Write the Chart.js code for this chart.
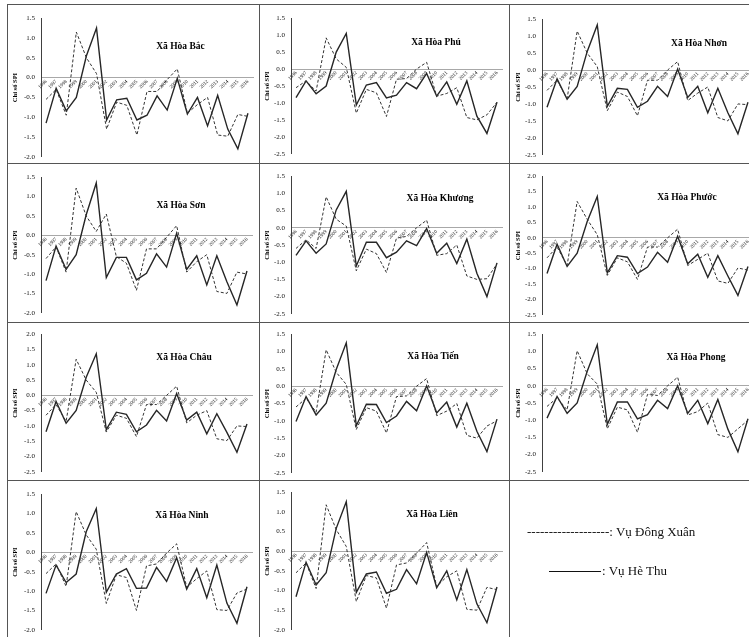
<!DOCTYPE html>
<html>
<head>
<meta charset="utf-8">
<script src="https://cdn.jsdelivr.net/npm/chart.js@4.4.0/dist/chart.umd.min.js"></script>
<style>
html,body{margin:0;padding:0;width:749px;height:637px;overflow:hidden;background:#fff;position:relative;}
canvas{position:absolute;}
.t{position:absolute;font-family:"Liberation Serif",serif;font-weight:bold;font-size:9.5px;color:#000;white-space:nowrap;transform:translate(-50%,-50%);}
.ln{position:absolute;background:#555;}
.lg{position:absolute;font-family:"Liberation Serif",serif;font-size:13px;color:#111;white-space:nowrap;transform:translateY(-50%);}
</style>
</head>
<body>
<script>
// ---- data ----
const years = ['1996','1997','1998','1999','2000','2001','2002','2003','2004','2005','2006','2007','2008','2009','2010','2011','2012','2013','2014','2015','2016'];

const communes = ['Xã Hòa Bắc','Xã Hòa Phú','Xã Hòa Nhơn','Xã Hòa Sơn','Xã Hòa Khương','Xã Hòa Phước','Xã Hòa Châu','Xã Hòa Tiến','Xã Hòa Phong','Xã Hòa Ninh','Xã Hòa Liên'];

const hoaBacDX = [-0.55,-0.30,-0.95,1.15,0.50,0.10,-1.30,-0.62,-0.70,-1.45,-0.35,-0.35,-0.05,0.22,-0.90,-0.68,-0.50,-1.45,-1.48,-0.93,-0.98];
const hoaBacHT = [-1.15,-0.27,-0.84,-0.50,0.55,1.25,-1.07,-0.56,-0.52,-1.07,-0.95,-0.46,-0.82,-0.02,-0.92,-0.50,-1.22,-0.45,-1.30,-1.80,-0.90];

const hoaPhuDX = [-0.55,-0.35,-0.65,0.92,0.30,0.05,-1.30,-0.60,-0.70,-1.40,-0.30,-0.28,0.00,0.20,-0.80,-0.72,-0.55,-1.43,-1.50,-1.35,-0.98];
const hoaPhuHT = [-0.84,-0.35,-0.73,-0.50,0.50,1.05,-1.06,-0.47,-0.40,-0.85,-0.77,-0.40,-0.58,-0.13,-0.80,-0.38,-1.04,-0.35,-1.39,-1.90,-0.98];

const hoaNhonDX = [-0.60,-0.30,-0.85,1.15,0.50,0.10,-1.20,-0.65,-0.78,-1.35,-0.30,-0.30,0.00,0.25,-0.90,-0.68,-0.50,-1.40,-1.50,-1.00,-1.02];
const hoaNhonHT = [-1.10,-0.26,-0.86,-0.48,0.55,1.33,-1.07,-0.54,-0.57,-1.10,-0.92,-0.48,-0.78,0.03,-0.81,-0.48,-1.26,-0.54,-1.26,-1.88,-0.95];

const hoaSonDX = [-0.60,-0.30,-0.95,1.22,0.50,0.10,0.55,-0.55,-0.72,-1.42,-0.35,-0.35,-0.05,0.25,-0.95,-0.68,-0.50,-1.45,-1.50,-0.95,-1.00];
const hoaSonHT = [-1.17,-0.28,-0.88,-0.50,0.53,1.35,-1.09,-0.57,-0.57,-1.15,-0.98,-0.48,-0.82,0.05,-0.88,-0.53,-1.28,-0.53,-1.20,-1.80,-0.92];

const hoaKhuongDX = [-0.60,-0.35,-0.60,0.90,0.25,0.05,-1.25,-0.62,-0.75,-1.30,-0.30,-0.25,0.00,0.22,-0.80,-0.75,-0.50,-1.40,-1.50,-1.48,-1.05];
const hoaKhuongHT = [-0.80,-0.38,-0.74,-0.47,0.52,1.06,-1.11,-0.42,-0.42,-0.87,-0.71,-0.38,-0.52,-0.02,-0.74,-0.45,-1.04,-0.33,-1.32,-2.00,-1.02];

const hoaPhuocDX = [-0.65,-0.30,-0.90,1.18,0.60,0.10,-1.22,-0.65,-0.78,-1.35,-0.30,-0.30,0.00,0.28,-0.90,-0.70,-0.50,-1.40,-1.48,-0.98,-1.05];
const hoaPhuocHT = [-1.16,-0.21,-0.93,-0.50,0.53,1.34,-1.14,-0.58,-0.63,-1.16,-0.95,-0.47,-0.79,0.05,-0.84,-0.53,-1.28,-0.58,-1.24,-1.87,-0.93];

const hoaChauDX = [-0.65,-0.30,-0.85,1.18,0.50,0.10,-1.20,-0.65,-0.75,-1.35,-0.30,-0.30,0.00,0.30,-0.90,-0.65,-0.50,-1.42,-1.48,-1.00,-1.02];
const hoaChauHT = [-1.19,-0.20,-0.91,-0.49,0.59,1.36,-1.12,-0.55,-0.62,-1.19,-0.97,-0.49,-0.84,0.06,-0.81,-0.55,-1.26,-0.60,-1.21,-1.86,-0.94];

const hoaTienDX = [-0.60,-0.35,-0.75,1.05,0.40,0.05,-1.25,-0.62,-0.72,-1.35,-0.30,-0.28,0.00,0.22,-0.85,-0.72,-0.50,-1.42,-1.50,-1.15,-1.00];
const hoaTienHT = [-1.02,-0.30,-0.83,-0.49,0.48,1.25,-1.14,-0.52,-0.53,-1.05,-0.86,-0.44,-0.71,0.01,-0.77,-0.46,-1.18,-0.49,-1.30,-1.89,-0.95];

const hoaPhongDX = [-0.60,-0.35,-0.70,1.02,0.35,0.05,-1.25,-0.62,-0.70,-1.35,-0.25,-0.28,0.00,0.25,-0.85,-0.75,-0.50,-1.42,-1.50,-1.25,-1.00];
const hoaPhongHT = [-0.94,-0.31,-0.80,-0.50,0.42,1.19,-1.12,-0.47,-0.47,-0.96,-0.84,-0.42,-0.66,0.00,-0.80,-0.42,-1.10,-0.40,-1.26,-1.92,-0.96];

const hoaNinhDX = [-0.55,-0.30,-0.88,1.05,0.45,0.08,-1.32,-0.58,-0.65,-1.50,-0.35,-0.30,-0.02,0.22,-0.90,-0.68,-0.48,-1.48,-1.50,-1.05,-0.95];
const hoaNinhHT = [-1.06,-0.33,-0.78,-0.56,0.53,1.13,-1.03,-0.56,-0.42,-0.93,-0.92,-0.39,-0.75,-0.14,-0.95,-0.42,-1.17,-0.33,-1.31,-1.83,-0.89];

const hoaLienDX = [-0.55,-0.30,-0.95,1.18,0.55,0.12,-1.28,-0.62,-0.68,-1.45,-0.35,-0.30,-0.05,0.22,-0.90,-0.65,-0.50,-1.48,-1.50,-0.92,-0.98];
const hoaLienHT = [-1.16,-0.28,-0.86,-0.55,0.58,1.26,-1.05,-0.58,-0.53,-1.07,-0.97,-0.47,-0.83,-0.03,-0.93,-0.50,-1.24,-0.47,-1.34,-1.82,-0.91];

const dongXuan = [hoaBacDX,hoaPhuDX,hoaNhonDX,hoaSonDX,hoaKhuongDX,hoaPhuocDX,hoaChauDX,hoaTienDX,hoaPhongDX,hoaNinhDX,hoaLienDX];
const heThu = [hoaBacHT,hoaPhuHT,hoaNhonHT,hoaSonHT,hoaKhuongHT,hoaPhuocHT,hoaChauHT,hoaTienHT,hoaPhongHT,hoaNinhHT,hoaLienHT];

// y-axis tick range per panel
const yMax = [1.5,1.5,1.5,1.5,1.5,2.0,2.0,1.5,1.5,1.5,1.5];
const yMin = [-2.0,-2.5,-2.5,-2.0,-2.5,-2.5,-2.5,-2.5,-2.5,-2.0,-2.0];

const seriesNames = ['Vụ Đông Xuân','Vụ Hè Thu'];

// ---- layout (pixel geometry of each panel) ----
const geom = [
  {cx:8,   ax:41,  top:16,  bot:159, right:253, tx:180.5, ty:46},
  {cx:260, ax:291, top:16,  bot:156, right:502, tx:436,   ty:42},
  {cx:511, ax:542, top:17,  bot:157, right:753, tx:699,   ty:43},
  {cx:8,   ax:41,  top:175, bot:315, right:252, tx:181,   ty:205},
  {cx:260, ax:291, top:174, bot:316, right:502, tx:440,   ty:198},
  {cx:511, ax:542, top:174, bot:317, right:753, tx:687,   ty:197},
  {cx:8,   ax:41,  top:332, bot:474, right:252, tx:184,   ty:357},
  {cx:260, ax:291, top:332, bot:475, right:502, tx:433,   ty:356},
  {cx:511, ax:542, top:332, bot:474, right:753, tx:696,   ty:357},
  {cx:8,   ax:41,  top:492, bot:632, right:252, tx:182,   ty:515},
  {cx:260, ax:291, top:490, bot:632, right:502, tx:432,   ty:514}
];

function addLine(x,y,w,h){
  const d=document.createElement('div');d.className='ln';
  d.style.left=x+'px';d.style.top=y+'px';d.style.width=w+'px';d.style.height=h+'px';
  document.body.appendChild(d);
}
// table frame
addLine(7,4,742,1);
addLine(7,163,742,1);
addLine(7,322,742,1);
addLine(7,480,742,1);
addLine(7,4,1,633);
addLine(259,4,1,633);
addLine(509,4,1,633);

const serif = 'Liberation Serif, Times New Roman, serif';

function makeChart(i){
  const L = geom[i];
  const padT = 8, padB = 8, padR = 1;
  const c = document.createElement('canvas');
  const w = Math.round(L.right - L.cx + padR);
  const h = Math.round(L.bot - L.top + padT + padB);
  c.width = w; c.height = h;
  c.style.width = w+'px'; c.style.height = h+'px';
  c.style.left = L.cx+'px'; c.style.top = (L.top - padT)+'px';
  document.body.appendChild(c);
  new Chart(c, {
    type:'line',
    data:{labels: years, datasets:[
      {label:seriesNames[0], data: dongXuan[i], borderColor:'#333', borderWidth:1, borderDash:[3,2], pointRadius:0, tension:0, fill:false},
      {label:seriesNames[1], data: heThu[i], borderColor:'#262626', borderWidth:1.4, pointRadius:0, tension:0, fill:false}
    ]},
    options:{
      responsive:false, animation:false, devicePixelRatio:1,
      layout:{padding:{top:padT,bottom:padB,left:0,right:padR}},
      plugins:{legend:{display:false}, tooltip:{enabled:false}},
      scales:{
        x:{type:'category', position:{y:0}, offset:true,
           grid:{display:false, drawTicks:false},
           border:{display:true, color:'#a8a8a8', width:1},
           ticks:{autoSkip:false, minRotation:45, maxRotation:45, padding:1,
                  font:{family:serif, size:5}, color:'#111'}},
        y:{min:yMin[i], max:yMax[i],
           afterFit: a => { a.width = L.ax - L.cx; },
           grid:{display:false, drawTicks:false},
           border:{display:true, color:'#404040', width:1},
           ticks:{stepSize:0.5, padding:6, callback:v=>Number(v).toFixed(1),
                  font:{family:serif, size:7}, color:'#111'},
           title:{display:true, text:'Chỉ số SPI', color:'#000',
                  font:{family:serif, size:6.5, weight:'bold'}, padding:{top:3,bottom:0}}}
      }
    }
  });
  const t = document.createElement('div');
  t.className='t'; t.textContent = communes[i];
  t.style.left = L.tx+'px'; t.style.top = L.ty+'px';
  document.body.appendChild(t);
}
for (let i=0;i<communes.length;i++) makeChart(i);

// legend
const l1 = document.createElement('div');
l1.className='lg'; l1.style.left='527px'; l1.style.top='532px';
l1.textContent = '-------------------: ' + seriesNames[0];
document.body.appendChild(l1);
const sl = document.createElement('div');
sl.style.cssText='position:absolute;left:549px;top:571px;width:52px;height:1px;background:#111;';
document.body.appendChild(sl);
const l2 = document.createElement('div');
l2.className='lg'; l2.style.left='602px'; l2.style.top='571px';
l2.textContent = ': ' + seriesNames[1];
document.body.appendChild(l2);
</script>
</body>
</html>
